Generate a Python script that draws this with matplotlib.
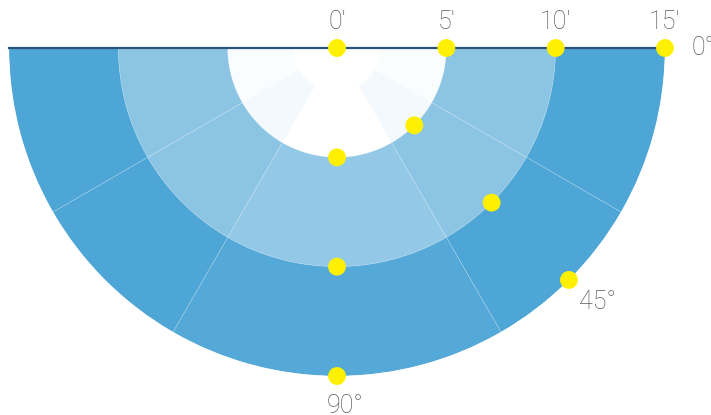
import numpy as np
import matplotlib
matplotlib.use("Agg")
import matplotlib.pyplot as plt
from matplotlib.colors import LinearSegmentedColormap

# ---- data ----
# angular sectors (degrees): start and width
sector_start = [0, 30, 60, 120, 150]
sector_width = [30, 30, 60, 30, 30]
# radial rings: inner edge and outer edge (minutes)
ring_inner = [2, 5, 10]
ring_outer = [5, 10, 15]
# heat values per ring (rows) and sector (columns), 0..100
heat_values = [
    [3, 7, 0, 7, 3],          # ring 2'-5'
    [65, 65, 61, 65, 65],     # ring 5'-10'
    [100, 100, 96, 100, 100], # ring 10'-15'
]
# scatter points: radius (minutes) and angle (degrees)
point_r = [0, 5, 10, 15, 5, 10, 15, 5, 10, 15]
point_theta = [0, 0, 0, 0, 45, 45, 45, 90, 90, 90]
# axis labels
r_ticks = [0, 5, 10, 15]
r_labels = ["0'", "5'", "10'", "15'"]
theta_ticks = [0, 45, 90]
theta_labels = ["0°", "45°", "90°"]

cmap = LinearSegmentedColormap.from_list("heat", ["#ffffff", "#4ea6d6"])

fig = plt.figure(figsize=(7.11, 4.15), dpi=100)
W, H = 711, 415
# square axes box (656 px) centred on the half-disk's bounding box
cx, cy, side = 337, 48 + 164, 656
ax = fig.add_axes([(cx - side / 2) / W, (H - (cy + side / 2)) / H,
                   side / W, side / H], projection="polar")
ax.set_theta_zero_location("E")
ax.set_theta_direction(-1)
ax.set_thetalim(0, np.pi)
ax.set_rorigin(0)
ax.set_rlim(0, 15)
ax.grid(False)
ax.set_xticks([])
ax.set_yticks([])
ax.patch.set_alpha(0)
ax.spines["polar"].set_visible(False)
ax.spines["inner"].set_visible(False)
for s in ("start", "end"):
    ax.spines[s].set_color("#2b5278")
    ax.spines[s].set_linewidth(1.6)
    ax.spines[s].set_zorder(4)

for ri in range(len(ring_inner)):
    for si in range(len(sector_start)):
        ax.bar(np.deg2rad(sector_start[si]), ring_outer[ri] - ring_inner[ri],
               width=np.deg2rad(sector_width[si]), bottom=ring_inner[ri],
               align="edge", color=cmap(heat_values[ri][si] / 100),
               edgecolor=(1, 1, 1, 0.22), linewidth=0.5, zorder=2)

ax.scatter(np.deg2rad(point_theta), point_r, s=165, color="#fff000",
           edgecolors="none", zorder=5, clip_on=False)

font = dict(family=["Roboto", "DejaVu Sans"], fontweight="light",
            color="#5a5a5a", fontsize=18)
for r, lab in zip(r_ticks, r_labels):
    ax.annotate(lab, xy=(0, r), xytext=(0, 26), textcoords="offset pixels",
                ha="center", va="center", annotation_clip=False, **font)

theta_offsets = [(38, 0), (29, -22), (8, -30)]
for t, lab, off in zip(theta_ticks, theta_labels, theta_offsets):
    ax.annotate(lab, xy=(np.deg2rad(t), 15), xytext=off,
                textcoords="offset pixels", ha="center", va="center",
                annotation_clip=False, **font)

fig.savefig("out.png", dpi=100)
